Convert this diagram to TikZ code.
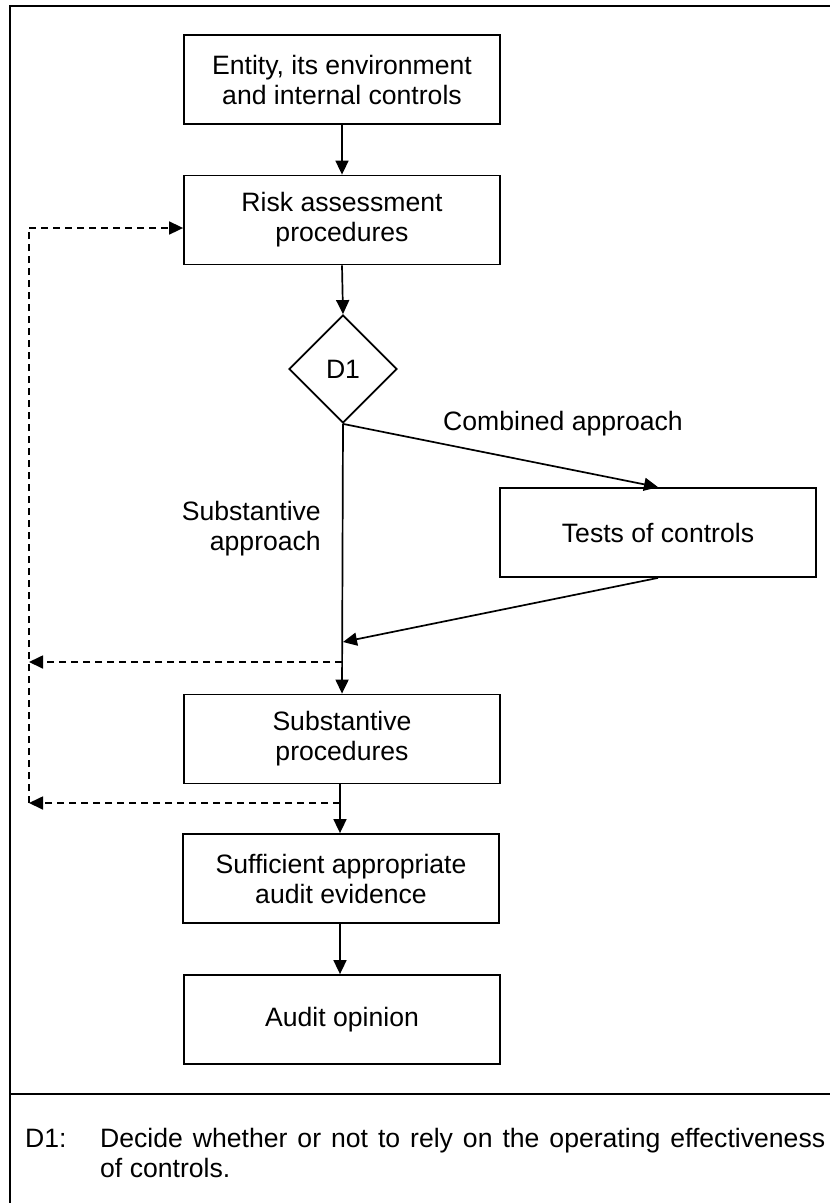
\documentclass[tikz,border=0pt]{standalone}
\usepackage{fontspec}
\setmainfont{Liberation Sans}
\usetikzlibrary{shapes.geometric,arrows.meta}
\begin{document}
\begin{tikzpicture}[x=1pt,y=-1pt,
  every node/.style={font=\fontsize{26.6pt}{30pt}\selectfont},
  stepbox/.style={draw, line width=1.8pt, minimum width=316pt, minimum height=89pt,
                  align=center, inner sep=0pt},
  decision/.style={draw, diamond, line width=1.8pt, minimum width=108pt,
                   minimum height=108pt, inner sep=0pt},
  flow/.style={line width=1.7pt, -{Triangle[length=14pt,width=13pt]}},
  loopline/.style={line width=1.7pt, dash pattern=on 7pt off 5pt},
  looparrow/.style={loopline, -{Triangle[length=14pt,width=13pt]}},
  frame/.style={line width=2.4pt}]

  \useasboundingbox (0,0) rectangle (830,1203);
  \clip (0,0) rectangle (830,1203);

  % outer frame and the divider above the key
  \draw[frame] (10,6) rectangle (860,1240);
  \draw[frame] (10,1094) -- (860,1094);

  % process boxes
  \node[stepbox] (ent)  at (342,79.5)  {Entity, its environment\\and internal controls};
  \node[stepbox] (risk) at (342,220)   {Risk assessment\\procedures};
  \node[decision] (d1)  at (343,369)   {D1};
  \node[stepbox] (tests) at (658,532.5) {Tests of controls};
  \node[stepbox] (subp) at (342,739)   {Substantive\\procedures};
  \node[stepbox] (suff) at (341,878.5) {Sufficient appropriate\\audit evidence};
  \node[stepbox] (opin) at (342,1019.5) {Audit opinion};

  % junction points on the main line
  \coordinate (join) at (343,642);
  \coordinate (fbA)  at (342,662);
  \coordinate (fbB)  at (340,803);
  \coordinate (rtop) at (29,228);
  \coordinate (rbot) at (29,803);

  % main flow
  \draw[flow] (ent.south) -- (risk.north);
  \draw[flow] (risk.south) -- (d1.north);
  \draw[flow] (d1.south) -- (tests.north);
  \draw[flow] (d1.south) -- (subp.north);
  \draw[flow] (tests.south) -- (join);
  \draw[flow] (subp.south -| fbB) -- (suff.north -| fbB);
  \draw[flow] (suff.south -| fbB) -- (opin.north -| fbB);

  % feedback loop back to risk assessment
  \draw[loopline] (rbot) -- (rtop);
  \draw[looparrow] (rtop) -- (rtop -| risk.west);
  \draw[looparrow] (fbA) -- (fbA -| rtop);
  \draw[looparrow] (fbB) -- (fbB -| rtop);

  % path labels
  \node (lcomb) at (563,424) {Combined approach};
  \node[anchor=east, align=right, inner sep=0pt] (lsub) at (321,529) {Substantive\\approach};

  % key
  \node[anchor=west, inner sep=0pt] (kd1) at (25,1138) {D1:};
  \node[anchor=west, align=left, inner sep=0pt] (ktext) at (100,1153)
    {\makebox[725pt][s]{Decide whether or not to rely on the operating effectiveness}\\of controls.};
\end{tikzpicture}
\end{document}
